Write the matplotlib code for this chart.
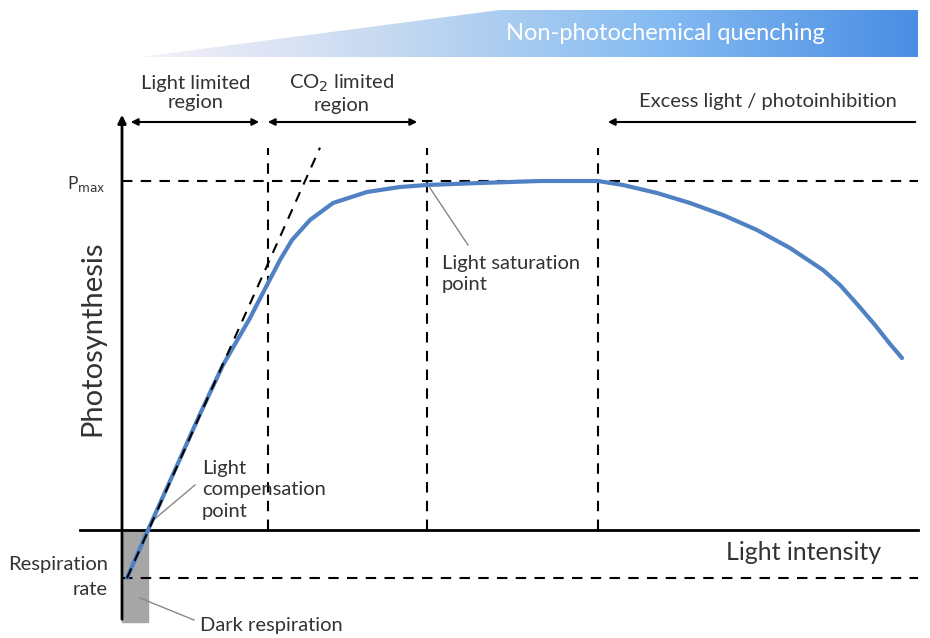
import matplotlib.pyplot as plt
import numpy as np
from matplotlib.path import Path
from matplotlib.patches import PathPatch, Rectangle
from matplotlib.colors import LinearSegmentedColormap

plt.rcParams['font.family'] = ['Lato', 'DejaVu Sans']

# light response curve (x: light intensity, y: net photosynthesis), arbitrary units
light = [5, 26, 53, 78, 101, 128, 145, 158, 170, 188, 211, 245, 278, 305, 358,
         418, 476, 501, 535, 568, 601, 635, 668, 701, 718, 735, 753, 768, 780]
photo = [-48, 0, 60, 116, 165, 212, 245, 270, 290, 310, 327, 338, 343, 345, 347,
         349, 349, 345, 337, 327, 315, 300, 282, 260, 245, 226, 205, 186, 172]

resp_rate = -48
p_max = 349
comp_point = 26
initial_slope = 2.23
boundaries = [146, 305, 476]   # light-limited / CO2-limited / saturation / photoinhibition
x_end = 796

fig = plt.figure(figsize=(9.3, 6.38), dpi=100)
ax = fig.add_axes([0, 0, 1, 1])
ax.set_xlim(-122, 808)
ax.set_ylim(-108, 530)
ax.axis('off')

dash = dict(color='black', lw=1.5, ls=(0, (5, 4)))
txt = '#333333'

# dark respiration bar
ax.add_patch(Rectangle((0, -92), comp_point, 92, color='#a6a6a6', zorder=1))

# axes with arrow
ax.annotate('', xy=(0, 418), xytext=(0, -92),
            arrowprops=dict(arrowstyle='-|>', color='black', lw=2, mutation_scale=12))
ax.plot([-42, x_end], [0, 0], color='black', lw=2)

# reference lines
ax.plot([0, x_end], [p_max, p_max], **dash)
ax.plot([0, x_end], [resp_rate, resp_rate], **dash)
for b in boundaries:
    ax.plot([b, b], [0, 382], **dash)
xs = np.array([5, 198])
ax.plot(xs, resp_rate + initial_slope * (xs - 5), **dash, zorder=4)

# curve
ax.plot(light, photo, color='#4f81c3', lw=3, solid_capstyle='round',
        solid_joinstyle='round', zorder=3)

# region arrows
arr = dict(arrowstyle='<|-|>', color='black', lw=1.5, mutation_scale=10)
ax.annotate('', xy=(6, 408), xytext=(140, 408), arrowprops=arr)
ax.annotate('', xy=(143, 408), xytext=(298, 408), arrowprops=arr)
ax.annotate('', xy=(483, 408), xytext=(x_end, 408),
            arrowprops=dict(arrowstyle='-|>', color='black', lw=1.5, mutation_scale=10))

fs = 14.5
ax.text(74, 437, 'Light limited\nregion', ha='center', va='center', fontsize=fs, color=txt, linespacing=1.2)
ax.text(220, 437, 'CO$_2$ limited\nregion', ha='center', va='center', fontsize=fs, color=txt, linespacing=1.2)
ax.text(646, 428, 'Excess light / photoinhibition', ha='center', va='center', fontsize=fs, color=txt)
ax.text(-16, 346, 'P$_{\\mathrm{max}}$', ha='right', va='center', fontsize=12.5, color=txt)
ax.text(-30, 192, 'Photosynthesis', rotation=90, ha='center', va='center', fontsize=21, color=txt)
ax.text(682, -22, 'Light intensity', ha='center', va='center', fontsize=18, color=txt)
ax.text(-14, -47, 'Respiration\nrate', ha='right', va='center', fontsize=fs, color=txt, linespacing=1.6,
        multialignment='right')

# callouts
lead = dict(color='#888888', lw=1)
ax.plot([comp_point + 3, 73], [8, 45], **lead)
ax.text(80, 40, 'Light\ncompensation\npoint', ha='left', va='center', fontsize=fs, color=txt, linespacing=1.3)
ax.plot([18, 72], [-68, -90], **lead)
ax.text(78, -96, 'Dark respiration', ha='left', va='center', fontsize=fs, color=txt)
ax.plot([308, 346], [342, 285], **lead)
ax.text(320, 256, 'Light saturation\npoint', ha='left', va='center', fontsize=fs, color=txt, linespacing=1.3)

# non-photochemical quenching banner
verts = [(18, 473), (378, 520), (796, 520), (796, 473), (18, 473)]
clip = PathPatch(Path(verts, closed=True), facecolor='none', edgecolor='none')
ax.add_patch(clip)
grad = np.linspace(0, 1, 256).reshape(1, -1)
cmap = LinearSegmentedColormap.from_list('npq', ['#f6f1f9', '#c3d8f0', '#85bbf2', '#4a8de3'])
im = ax.imshow(grad, extent=(18, 796, 473, 520), cmap=cmap, aspect='auto', zorder=0)
im.set_clip_path(clip)
ax.text(543, 497, 'Non-photochemical quenching', ha='center', va='center', fontsize=17, color='white')

fig.savefig('out.png', dpi=100)
